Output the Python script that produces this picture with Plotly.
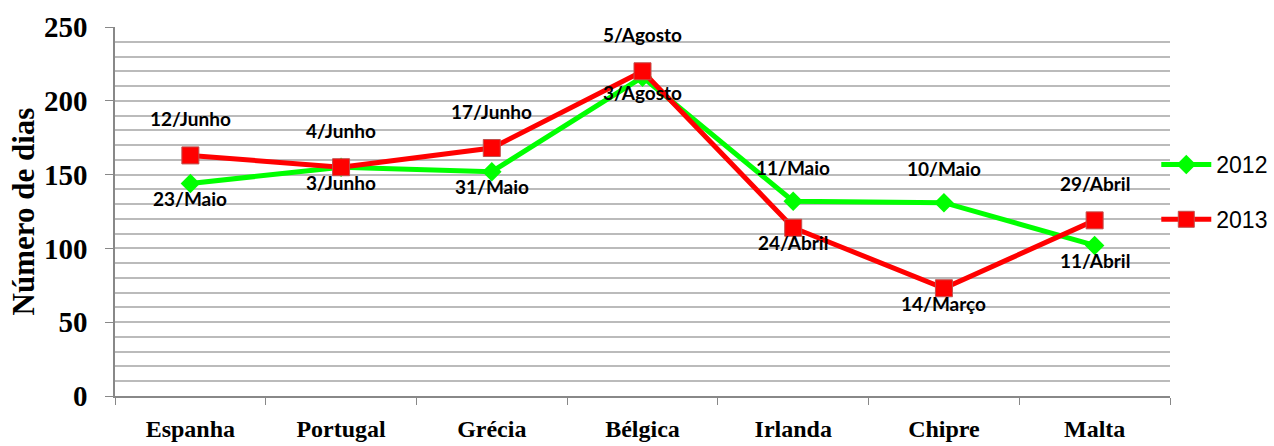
import plotly.graph_objects as go

categories = ["Espanha", "Portugal", "Grécia", "Bélgica", "Irlanda", "Chipre", "Malta"]
days_2012 = [144, 155, 152, 216, 132, 131, 102]
days_2013 = [163, 155, 168, 220, 114, 73, 119]
labels_2012 = ["23/Maio", "3/Junho", "31/Maio", "3/Agosto", "11/Maio", "10/Maio", "11/Abril"]
labels_2013 = ["12/Junho", "4/Junho", "17/Junho", "5/Agosto", "24/Abril", "14/Março", "29/Abril"]
y_ticks = [0, 50, 100, 150, 200, 250]

fig = go.Figure()
fig.add_trace(go.Scatter(
    x=categories, y=days_2012, name="2012", mode="lines+markers",
    line=dict(color="#00FF00", width=5),
    marker=dict(symbol="diamond", size=15, color="#00FF00"),
    legendgroup="a",
))
fig.add_trace(go.Scatter(
    x=categories, y=days_2013, name="2013", mode="lines+markers",
    line=dict(color="#FF0000", width=5),
    marker=dict(symbol="square", size=17, color="#FF0000", line=dict(color="#C0504D", width=1)),
    legendgroup="b",
))

lab_font = dict(family="Lato", size=19, color="#000000")
for cat, v12, v13, l12, l13 in zip(categories, days_2012, days_2013, labels_2012, labels_2013):
    up12 = v12 > v13
    fig.add_annotation(x=cat, y=v12, text="<b>%s</b>" % l12, showarrow=False,
                       yshift=34 if up12 else -15, font=lab_font)
    fig.add_annotation(x=cat, y=v13, text="<b>%s</b>" % l13, showarrow=False,
                       yshift=-15 if up12 else 37, font=lab_font)

fig.update_layout(
    width=1274, height=446,
    margin=dict(l=115, r=104, t=27, b=50, autoexpand=False),
    plot_bgcolor="white", paper_bgcolor="white",
    showlegend=True,
    legend=dict(x=0.987, xanchor="left", y=0.553, yanchor="middle",
                itemwidth=50,
                font=dict(family="Liberation Sans", size=23, color="#000000"),
                tracegroupgap=22, bgcolor="rgba(0,0,0,0)"),
    xaxis=dict(
        type="category", showgrid=False, showline=True, linecolor="#888888", linewidth=1.5,
        ticks="outside", tickson="boundaries", ticklen=7, tickcolor="#888888",
        ticklabelstandoff=10, automargin=False,
        tickfont=dict(family="Liberation Serif", size=24, color="#000000"),
        range=[-0.5, 6.5],
    ),
    yaxis=dict(
        range=[0, 250], tickvals=y_ticks, ticktext=["<b>%d</b>" % t for t in y_ticks],
        showgrid=True, gridcolor="#BBBBBB", gridwidth=1.5,
        minor=dict(dtick=10, showgrid=True, gridcolor="#BBBBBB", gridwidth=1.5),
        showline=True, linecolor="#888888", linewidth=1.5,
        ticks="outside", ticklen=8, tickcolor="#888888", ticklabelstandoff=12,
        tickfont=dict(family="Liberation Serif", size=29, color="#000000"),
        zeroline=False, automargin=False,
        title=dict(text="<b>Número de dias</b>", standoff=0,
                   font=dict(family="Liberation Serif", size=31, color="#000000")),
    ),
)
fig.update_xaxes(ticktext=["<b>%s</b>" % c for c in categories], tickvals=categories)
fig.write_html("out.html")
